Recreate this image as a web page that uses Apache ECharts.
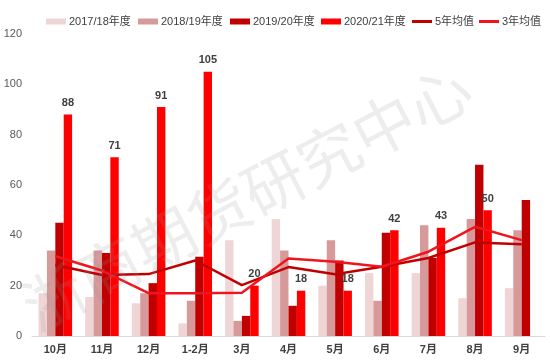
<!DOCTYPE html>
<html><head><meta charset="utf-8">
<script src="https://cdn.jsdelivr.net/npm/echarts@6/dist/echarts.min.js"></script>
<style>html,body{margin:0;padding:0;background:#fff}#c{width:550px;height:363px}</style>
</head><body><div id="c"></div>
<script>
var categories = ['10月','11月','12月','1-2月','3月','4月','5月','6月','7月','8月','9月'];
var s2017 = [17, 15.5, 13, 5, 38, 46.5, 20, 25, 25, 15, 19];
var s2018 = [34, 34, 17, 14, 6, 34, 38, 14, 44, 46.5, 42];
var s2019 = [45, 33, 21, 31.5, 8, 12, 30, 41, 31, 68, 54];
var s2020 = [88, 71, 91, 105, 20, 18, 18, 42, 43, 50, null];
var avg5 = [28.2, 24.2, 24.6, 30, 20.2, 27.4, 24.5, 27.5, 31, 37.2, 36.5];
var avg3 = [31.7, 26, 17, 17, 17.2, 30.8, 29.5, 27.5, 33.5, 43.4, 38.1];
var yTicks = {min: 0, max: 120, interval: 20};
var seriesNames = ['2017/18年度','2018/19年度','2019/20年度','2020/21年度','5年均值','3年均值'];

var font = "'Liberation Sans','Noto Sans CJK SC'";
var cjk = 'Noto Sans CJK SC';
var chart = echarts.init(document.getElementById('c'), null, {renderer: 'canvas'});
function bar(name, data, color, label) {
  return {
    name: name, type: 'bar', data: data, barGap: '0%', barCategoryGap: '28%',
    itemStyle: {color: color},
    label: label ? {show: true, position: 'top', distance: 6, color: '#404040', fontSize: 11, fontWeight: 'bold', fontFamily: font} : {show: false},
    z: 2
  };
}
function line(name, data, color) {
  return {
    name: name, type: 'line', data: data, symbol: 'none',
    lineStyle: {color: color, width: 2.5}, itemStyle: {color: color}, z: 3
  };
}
var legendLefts = [46, 138, 230, 321, 412, 479];
var legends = seriesNames.map(function (n, i) {
  var isLine = i >= 4;
  return {
    data: [{name: n, icon: 'rect'}], left: legendLefts[i], top: 16, padding: 0,
    itemWidth: 20, itemHeight: isLine ? 3 : 6, itemGap: 0,
    textStyle: {color: '#404040', fontSize: 11, fontFamily: font, padding: [0, 0, 0, -2]}
  };
});
chart.setOption({
  animation: false,
  textStyle: {fontFamily: font},
  legend: legends,
  grid: {left: 32, right: 5, top: 34, bottom: 27},
  xAxis: {
    type: 'category', data: categories,
    axisLine: {lineStyle: {color: '#d9d9d9'}},
    axisTick: {show: false},
    axisLabel: {color: '#404040', fontSize: 11, fontWeight: 'bold', margin: 8, fontFamily: font}
  },
  yAxis: {
    type: 'value', min: yTicks.min, max: yTicks.max, interval: yTicks.interval,
    splitLine: {show: false},
    axisLine: {show: false}, axisTick: {show: false},
    axisLabel: {color: '#595959', fontSize: 11, margin: 10, fontFamily: font}
  },
  graphic: [{
    type: 'text', left: 12, top: 55, rotation: Math.PI * 27.5 / 180,
    style: {text: '浙商期货研究中心', fontSize: 62, fill: 'rgba(150,150,150,0.17)', fontFamily: cjk},
    z: 10, silent: true
  }],
  series: [
    bar(seriesNames[0], s2017, '#F0D5D6'),
    bar(seriesNames[1], s2018, '#D79A9A'),
    bar(seriesNames[2], s2019, '#C00000'),
    bar(seriesNames[3], s2020, '#FF0000', true),
    line(seriesNames[4], avg5, '#C00000'),
    line(seriesNames[5], avg3, '#F0141E')
  ]
});
</script></body></html>
